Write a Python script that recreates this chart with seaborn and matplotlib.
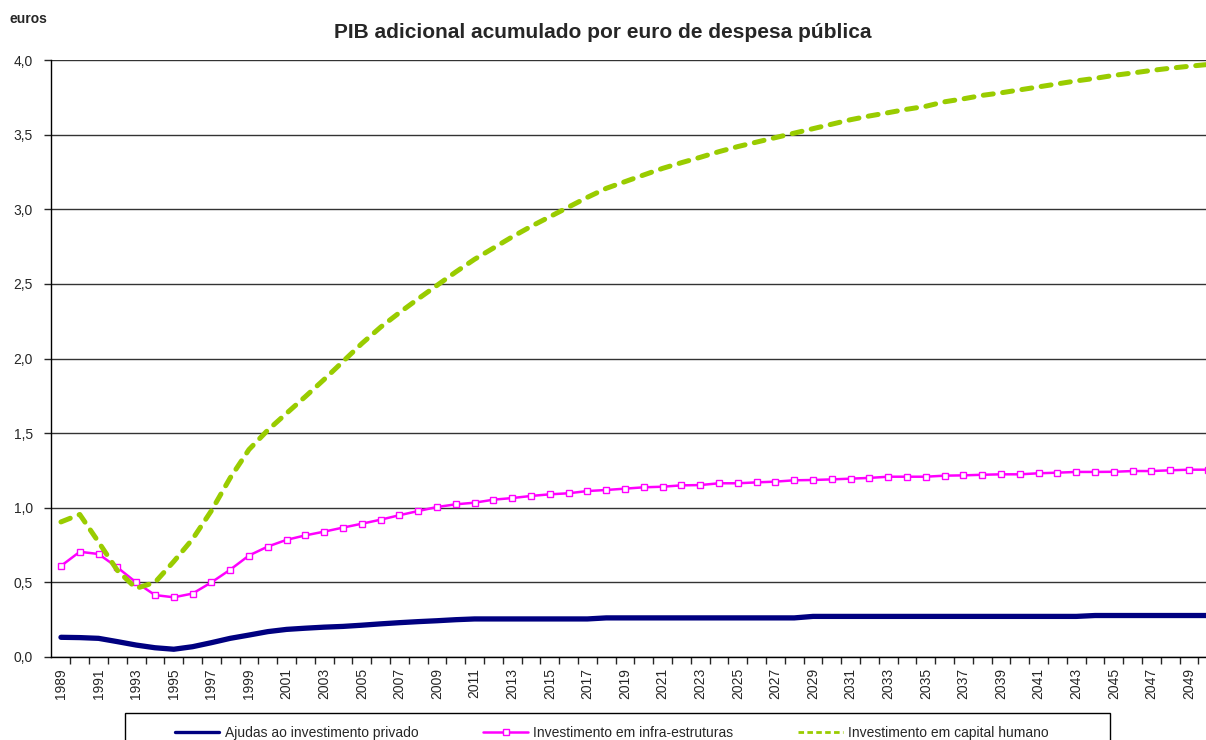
import matplotlib
matplotlib.use("Agg")
import matplotlib.pyplot as plt
import numpy as np
import pandas as pd
import seaborn as sns
from matplotlib.lines import Line2D
from matplotlib.patches import Rectangle


years = list(range(1989, 2051))

ajudas = [
    0.132, 0.130, 0.125, 0.103, 0.080, 0.062, 0.052, 0.069, 0.096, 0.125,
    0.147, 0.170, 0.185, 0.193, 0.200, 0.205, 0.213, 0.222, 0.230, 0.237,
    0.243, 0.250, 0.255, 0.255, 0.255, 0.255, 0.255, 0.255, 0.255, 0.262,
    0.262, 0.262, 0.262, 0.262, 0.262, 0.262, 0.262, 0.262, 0.262, 0.262,
    0.272, 0.272, 0.272, 0.272, 0.272, 0.272, 0.272, 0.272, 0.272, 0.272,
    0.272, 0.272, 0.272, 0.272, 0.272, 0.278, 0.278, 0.278, 0.278, 0.278,
    0.278, 0.278,
]

infra = [
    0.610, 0.705, 0.690, 0.600, 0.500, 0.415, 0.400, 0.425, 0.500, 0.585,
    0.680, 0.740, 0.785, 0.815, 0.840, 0.867, 0.893, 0.920, 0.950, 0.978,
    1.005, 1.023, 1.034, 1.054, 1.065, 1.079, 1.090, 1.097, 1.112, 1.119,
    1.128, 1.137, 1.141, 1.150, 1.152, 1.164, 1.164, 1.170, 1.175, 1.184,
    1.186, 1.190, 1.195, 1.200, 1.208, 1.208, 1.208, 1.215, 1.217, 1.221,
    1.224, 1.224, 1.231, 1.235, 1.240, 1.240, 1.241, 1.246, 1.246, 1.251,
    1.255, 1.255,
]

capital = [
    0.905, 0.955, 0.770, 0.580, 0.460, 0.500, 0.640, 0.790, 0.980, 1.200,
    1.390, 1.520, 1.633, 1.745, 1.860, 1.980, 2.100, 2.210, 2.307, 2.400,
    2.490, 2.580, 2.665, 2.740, 2.815, 2.885, 2.950, 3.015, 3.080, 3.140,
    3.185, 3.230, 3.274, 3.312, 3.348, 3.386, 3.420, 3.450, 3.480, 3.510,
    3.540, 3.570, 3.600, 3.625, 3.647, 3.670, 3.690, 3.720, 3.740, 3.763,
    3.780, 3.800, 3.820, 3.840, 3.860, 3.877, 3.897, 3.913, 3.930, 3.945,
    3.958, 3.970,
]

series_names = [
    "Ajudas ao investimento privado",
    "Investimento em infra-estruturas",
    "Investimento em capital humano",
]

y_ticks = [0.0, 0.5, 1.0, 1.5, 2.0, 2.5, 3.0, 3.5, 4.0]
y_tick_labels = ["0,0", "0,5", "1,0", "1,5", "2,0", "2,5", "3,0", "3,5", "4,0"]

title = "PIB adicional acumulado por euro de despesa pública"
unit_label = "euros"


sns.set_style("white")
plt.rcParams["font.family"] = ["Liberation Sans", "DejaVu Sans"]

fig = plt.figure(figsize=(12.06, 7.40), dpi=100)
ax = fig.add_axes([51 / 1206, 83 / 740, 1155 / 1206, 597 / 740])

df = pd.DataFrame({"ano": years, "ajudas": ajudas, "infra": infra, "capital": capital})

sns.lineplot(data=df, x="ano", y="ajudas", ax=ax, color="#000080", linewidth=3.8,
             legend=False)
sns.lineplot(data=df, x="ano", y="infra", ax=ax, color="#FF00FF", linewidth=1.8,
             marker="s", markersize=5, markerfacecolor="white",
             markeredgecolor="#FF00FF", markeredgewidth=1.0, legend=False)
sns.lineplot(data=df, x="ano", y="capital", ax=ax, color="#99CC00", linewidth=3.6,
             legend=False)
green = ax.lines[-1]
green.set_dashes((2.0, 1.9))
green.set_dash_capstyle("round")

ax.set_xlim(1988.47, 2049.9)
ax.set_ylim(0, 4.0)

ax.set_yticks(y_ticks)
ax.set_yticklabels(y_tick_labels, fontsize=10)
ax.tick_params(axis="y", direction="out", length=5, width=1, pad=8, left=True)

ax.set_xticks(years[::2])
ax.set_xticklabels([str(y) for y in years[::2]], rotation=90, fontsize=10)
ax.set_xticks([y + 0.5 for y in years[:-1]], minor=True)
ax.tick_params(axis="x", which="major", length=0, pad=8)
ax.tick_params(axis="x", which="minor", direction="out", length=5, width=1, bottom=True)

ax.grid(axis="y", color="#333333", linewidth=1.0)
ax.grid(axis="x", visible=False)
ax.set_axisbelow(True)

for side in ["top", "right"]:
    ax.spines[side].set_visible(False)
for side in ["left", "bottom"]:
    ax.spines[side].set_color("black")
    ax.spines[side].set_linewidth(1.0)

ax.set_xlabel("")
ax.set_ylabel("")

# legend keys are drawn thinner than the plotted lines, as in the original
handles = [
    Line2D([], [], color="#000080", linewidth=2.4),
    Line2D([], [], color="#FF00FF", linewidth=1.8, marker="s", markersize=5,
           markerfacecolor="white", markeredgecolor="#FF00FF", markevery=[1]),
    Line2D([], [], color="#99CC00", linewidth=2.0, dashes=(2.0, 1.2)),
]

fig.patches.append(Rectangle((125 / 1206, -20 / 740), 985 / 1206, 47 / 740,
                             transform=fig.transFigure, fill=False,
                             edgecolor="black", linewidth=1.0))
fig.legend(handles, series_names, loc="center left", ncol=3, frameon=False,
           bbox_to_anchor=(168 / 1206, 7 / 740, 888 / 1206, 0), mode="expand",
           fontsize=10, handlelength=3.2, handletextpad=0.4, borderpad=0.0)

fig.text(0.5, 1 - 32 / 740, title, ha="center", va="center",
         fontsize=15, fontweight="bold")
fig.text(10 / 1206, 1 - 19 / 740, unit_label, ha="left", va="center",
         fontsize=10, fontweight="bold")

fig.savefig("out.png", dpi=100)
